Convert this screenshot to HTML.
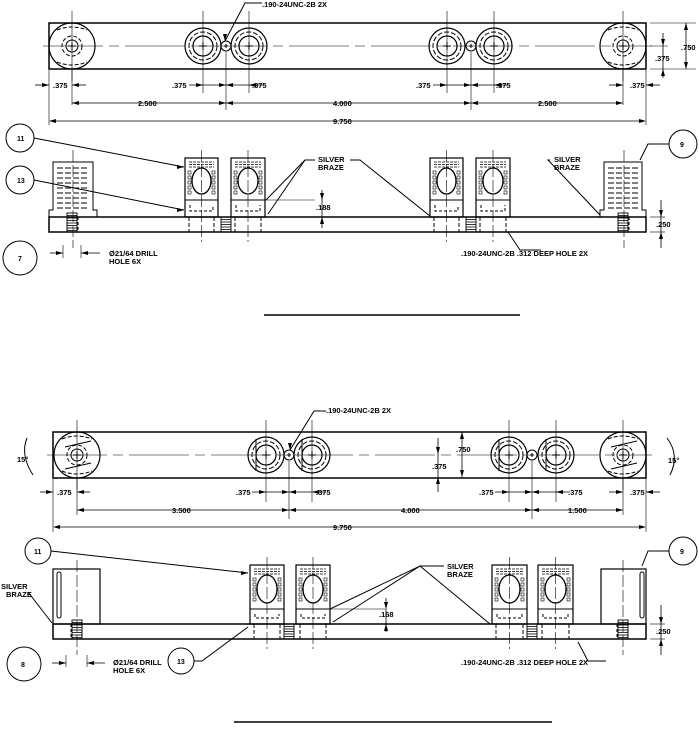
<!DOCTYPE html>
<html><head><meta charset="utf-8"><style>
html,body{margin:0;padding:0;background:#fff}
svg{display:block}
text{font-family:"Liberation Sans",Arial,sans-serif;font-weight:bold;font-size:7.5px;fill:#000}
</style></head><body>
<svg id="s" width="699" height="729" viewBox="0 0 699 729" xmlns="http://www.w3.org/2000/svg">
<g id="g" stroke="#000" fill="none" stroke-width="1"></g>
<g>
<text x="262" y="7">.190-24UNC-2B 2X</text>
<text x="53" y="88">.375</text>
<text x="172" y="88">.375</text>
<text x="252" y="88">.375</text>
<text x="416" y="88">.375</text>
<text x="496" y="88">.375</text>
<text x="630" y="88">.375</text>
<text x="138" y="106">2.500</text>
<text x="333" y="106">4.000</text>
<text x="538" y="106">2.500</text>
<text x="333" y="124">9.750</text>
<text x="681" y="50">.750</text>
<text x="655" y="61">.375</text>
<text x="318" y="162">SILVER</text>
<text x="318" y="170">BRAZE</text>
<text x="554" y="162">SILVER</text>
<text x="554" y="170">BRAZE</text>
<text x="316" y="210">.188</text>
<text x="656" y="227">.250</text>
<text x="109" y="256">Ø21/64 DRILL</text>
<text x="109" y="264">HOLE 6X</text>
<text x="461" y="256">.190-24UNC-2B .312 DEEP HOLE 2X</text>
<text x="17" y="141" style="font-size:7px">11</text>
<text x="17" y="183" style="font-size:7px">13</text>
<text x="18" y="261" style="font-size:7px">7</text>
<text x="680" y="147" style="font-size:7px">9</text>
<text x="326" y="413">.190-24UNC-2B 2X</text>
<text x="17" y="462">15°</text>
<text x="668" y="463">15°</text>
<text x="57" y="495">.375</text>
<text x="236" y="495">.375</text>
<text x="316" y="495">.375</text>
<text x="479" y="495">.375</text>
<text x="568" y="495">.375</text>
<text x="630" y="495">.375</text>
<text x="172" y="513">3.500</text>
<text x="401" y="513">4.000</text>
<text x="568" y="513">1.500</text>
<text x="333" y="530">9.750</text>
<text x="456" y="452">.750</text>
<text x="432" y="469">.375</text>
<text x="1" y="589">SILVER</text>
<text x="6" y="597">BRAZE</text>
<text x="447" y="569">SILVER</text>
<text x="447" y="577">BRAZE</text>
<text x="379" y="617">.168</text>
<text x="656" y="634">.250</text>
<text x="113" y="665">Ø21/64 DRILL</text>
<text x="113" y="673">HOLE 6X</text>
<text x="461" y="665">.190-24UNC-2B .312 DEEP HOLE 2X</text>
<text x="34" y="554" style="font-size:7px">11</text>
<text x="177" y="664" style="font-size:7px">13</text>
<text x="21" y="667" style="font-size:7px">8</text>
<text x="680" y="554" style="font-size:7px">9</text>
</g>
</svg>
<script>
var G=document.getElementById('g'),S='';
function L(a,b,c,d,ds,w){S+='<line x1="'+a+'" y1="'+b+'" x2="'+c+'" y2="'+d+'"'+(ds?' stroke-dasharray="'+ds+'"':'')+(w?' stroke-width="'+w+'"':'')+'/>';}
function C(x,y,r,ds,w){S+='<circle cx="'+x+'" cy="'+y+'" r="'+r+'"'+(ds?' stroke-dasharray="'+ds+'"':'')+(w?' stroke-width="'+w+'"':'')+'/>';}
function R(x,y,w,h,sw){S+='<rect x="'+x+'" y="'+y+'" width="'+w+'" height="'+h+'"'+(sw?' stroke-width="'+sw+'"':'')+'/>';}
function P(d,f){S+='<path d="'+d+'"'+(f?' fill="#000" stroke="none"':'')+'/>';}
function A(x,y,dir){
 var d={r:[-7,-2,-7,2],l:[7,-2,7,2],u:[-2,7,2,7],d:[-2,-7,2,-7]}[dir];
 P('M'+x+' '+y+'L'+(x+d[0])+' '+(y+d[1])+'L'+(x+d[2])+' '+(y+d[3])+'Z',1);}
function HD(y,x1,x2){L(x1,y,x2,y,0,0.8);A(x1,y,'l');A(x2,y,'r');}
function plan(y0,x0,x1,eL,eR,pairs,tilt){
 var cy=y0+23;R(x0,y0,x1-x0,46,1.5);
 L(x0-6,cy,x1+6,cy,'60 6 10 6',0.6);
 [eL,eR].forEach(function(e){C(e,cy,23,0,1.2);C(e,cy,10,'4 2');C(e,cy,6);L(e-4,cy,e+4,cy);L(e,cy-4,e,cy+4);L(e,y0-12,e,y0+58,0,0.6);
  S+='<path d="M'+(e-15)+' '+(cy-16)+'Q'+e+' '+(cy-22)+' '+(e+15)+' '+(cy-16)+'M'+(e-15)+' '+(cy+16)+'Q'+e+' '+(cy+22)+' '+(e+15)+' '+(cy+16)+'" stroke-dasharray="4 2"/>';
  if(tilt){L(e-12,cy-8,e+14,cy-14);L(e-12,cy+14,e+14,cy+8);}
 });
 pairs.forEach(function(p){[p[0],p[2]].forEach(function(x){C(x,cy,18,0,1.2);C(x,cy,14,'5 2');C(x,cy,10,0,1.2);L(x-4,cy,x+4,cy);L(x,cy-4,x,cy+4);L(x,y0-12,x,y0+70,0,0.6);if(tilt){L(x-10,cy-16,x-10,cy+16);}});
  C(p[1],cy,5);L(p[1]-2,cy,p[1]+2,cy);L(p[1],cy-2,p[1],cy+2);L(p[1],cy+6,p[1],y0+87,0,0.6);});
}
function block(x,y,w,yb,yj){
 R(x,y,w,yb-y,1.2);L(x,yj,x+w,yj);var cx=x+w/2;
 S+='<ellipse cx="'+cx+'" cy="'+(y+(yj-y)/2+2)+'" rx="'+(w/2-7)+'" ry="'+((yj-y)/2-8)+'" stroke-width="1.3"/>';
 for(var i=0;i<3;i++)L(x+4,y+4+i*2.5,x+w-4,y+4+i*2.5,'3 1',0.8);
 for(var j=0;j<5;j++){R(x+3,y+13+j*5,3,3,0.6);R(x+w-6,y+13+j*5,3,3,0.6);}
 P('M'+(x+5)+' '+(yj+5)+'V'+(yb-6)+'H'+(x+w-5)+'V'+(yj+5));S=S.replace(/\/>$/,' stroke-dasharray="3 2"/>');
 L(x+4,yb,x+4,yb+15,'4 2');L(x+w-4,yb,x+w-4,yb+15,'4 2');
 L(cx,y-8,cx,yb+25,'12 3',0.6);
}
function thread(x,y,h){R(x-5,y,10,h,0.9);for(var k=1;k<h/2.5;k++)L(x-5,y+k*2.5,x+5,y+k*2.5,0,0.8);}
plan(23,49,646,72,623,[[203,226,249],[447,471,494]],0);
P('M225 41L245 3H262');A(225,41,'d');
L(49,70,49,125,0,0.6);L(646,70,646,125,0,0.6);L(72,70,72,105,0,0.6);L(623,70,623,105,0,0.6);
L(35,85,49,85,0,0.8);A(49,85,'r');L(72,85,86,85,0,0.8);A(72,85,'l');
L(609,85,623,85,0,0.8);A(623,85,'r');L(646,85,660,85,0,0.8);A(646,85,'l');
[[203,226,249],[447,471,494]].forEach(function(p){L(p[0]-14,85,p[2]+14,85,0,0.8);A(p[0],85,'r');A(p[1],85,'l');A(p[1],85,'r');A(p[2],85,'l');});
HD(103,72,226);HD(103,226,471);HD(103,471,623);
L(52,121,643,121,0,0.8);A(49,121,'l');A(646,121,'r');
L(650,23,696,23,0,0.6);L(650,69,696,69,0,0.6);L(686,23,686,69,0,0.8);A(686,23,'u');A(686,69,'d');
L(663,33,663,78,0,0.8);A(663,46,'d');A(663,69,'u');L(650,46,668,46,0,0.6);
R(49,217,597,15,1.5);
P('M49 217V210H53V162H93V210H97V217');P('M600 217V210H604V162H642V210H646V217');
[[53,162],[604,162]].forEach(function(b){for(var r=0;r<9;r++){var yy=b[1]+6+r*5;L(b[0]+4,yy,b[0]+36,yy,'6 2',1);}L(b[0]+20,b[1]-12,b[0]+20,248,'12 3',0.6);});
thread(72,213,19);thread(623,213,19);
L(67,217,67,232,'3 2');L(78,217,78,232,'3 2');L(618,217,618,232,'3 2');L(629,217,629,232,'3 2');
block(185,158,33,217,200);block(231,158,34,217,200);block(430,158,33,217,200);block(476,158,34,217,200);
thread(226,217,15);thread(471,217,15);
L(265,200,315,200,0,0.6);L(265,217,330,217,0,0.6);L(322,190,322,228,0,0.8);A(322,200,'d');A(322,217,'u');
L(650,217,665,217,0,0.6);L(650,232,665,232,0,0.6);L(661,200,661,248,0,0.8);A(661,217,'d');A(661,232,'u');
C(20,138,14);C(20,180,14);C(20,258,17);C(683,144,14);
P('M34 138L184 167');A(184,167,'r');P('M34 180L184 210');A(184,210,'r');
P('M669 144H648L640 160');
P('M315 160L305 160L266 200');P('M305 160L268 214');P('M350 160L360 160L430 216');P('M550 160L548 160L600 215');
P('M541 250H520L508 232');
L(63,245,63,258,0,0.6);L(81,245,81,258,0,0.6);L(50,253,63,253,0,0.8);A(63,253,'r');L(81,253,100,253,0,0.8);A(81,253,'l');
L(264,315,520,315,0,1.5);
plan(432,53,646,77,623,[[266,289,312],[509,532,556]],1);
P('M290 450L314 411H326');A(290,450,'d');
L(53,478,53,532,0,0.6);L(646,478,646,532,0,0.6);L(77,478,77,515,0,0.6);L(623,478,623,515,0,0.6);
L(40,492,53,492,0,0.8);A(53,492,'r');L(77,492,90,492,0,0.8);A(77,492,'l');
L(609,492,623,492,0,0.8);A(623,492,'r');L(646,492,660,492,0,0.8);A(646,492,'l');
[[266,289,312],[509,532,556]].forEach(function(p){L(p[0]-14,492,p[2]+14,492,0,0.8);A(p[0],492,'r');A(p[1],492,'l');A(p[1],492,'r');A(p[2],492,'l');});
HD(510,77,289);HD(510,289,532);HD(510,532,623);
L(56,527,643,527,0,0.8);A(53,527,'l');A(646,527,'r');
L(462,432,462,477,0,0.8);A(462,432,'u');A(462,477,'d');
L(438,438,438,492,0,0.8);A(438,454,'d');A(438,477,'u');
P('M27 438Q20 455 33 475');P('M667 438Q680 455 670 475');
R(53,624,593,15,1.5);
R(53,569,47,55,1.2);R(601,569,45,55,1.2);
S+='<rect x="57" y="572" width="4" height="46" rx="2"/><rect x="640" y="572" width="4" height="46" rx="2"/>';
L(77,560,77,655,'12 3',0.6);L(623,560,623,655,'12 3',0.6);
thread(77,620,19);thread(623,620,19);
L(71,624,71,639,'3 2');L(82,624,82,639,'3 2');L(617,624,617,639,'3 2');L(628,624,628,639,'3 2');
block(250,565,34,624,609);block(296,565,34,624,609);block(492,565,35,624,609);block(538,565,35,624,609);
thread(289,624,15);thread(532,624,15);
L(330,609,385,609,0,0.6);L(330,624,390,624,0,0.6);L(386,598,386,632,0,0.8);A(386,609,'d');A(386,624,'u');
L(650,624,665,624,0,0.6);L(650,639,665,639,0,0.6);L(661,605,661,655,0,0.8);A(661,624,'d');A(661,639,'u');
C(38,551,13);C(24,664,17);C(181,661,13);C(683,551,14);
P('M51 551L248 573');A(248,573,'r');P('M194 661L202 661L248 627');
P('M669 551H648L642 566');
P('M28 592L52 623');
P('M444 566L420 566L330 609');P('M420 566L333 622');P('M420 566L490 624');
P('M606 661H588L578 642');
L(66,655,66,667,0,0.6);L(87,655,87,667,0,0.6);L(52,663,66,663,0,0.8);A(66,663,'r');L(87,663,105,663,0,0.8);A(87,663,'l');
L(234,722,552,722,0,1.5);
G.innerHTML=S;
</script>
</body></html>
